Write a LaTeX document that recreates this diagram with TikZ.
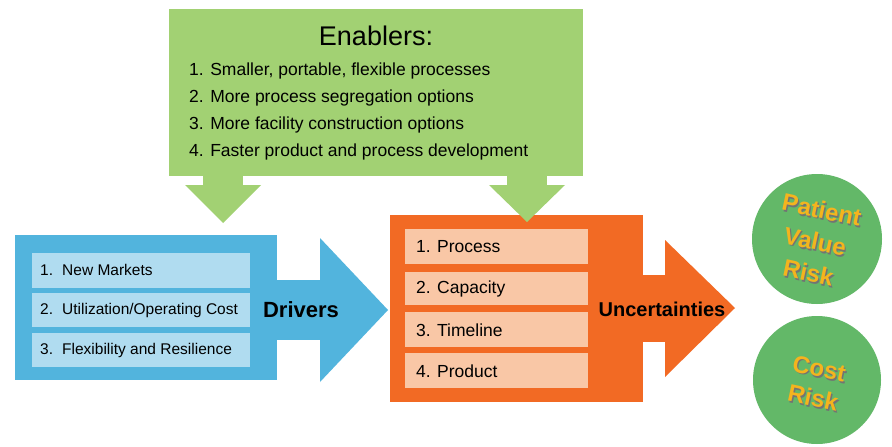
\documentclass[tikz,border=0pt]{standalone}
\usepackage{fontspec}
\setmainfont{Liberation Sans}
\definecolor{enab}{HTML}{A2D173}
\definecolor{drv}{HTML}{52B4DD}
\definecolor{drvitem}{HTML}{B0DCF0}
\definecolor{unc}{HTML}{F26A24}
\definecolor{uncitem}{HTML}{F9C7A6}
\definecolor{riskgreen}{HTML}{63B868}
\definecolor{riskgold}{HTML}{F4B41E}
\newcommand\shtxt[1]{\makebox[0pt][l]{\hspace{1.6pt}\raisebox{-1.6pt}{\textcolor{black!55}{#1}}}#1}
\begin{document}
\begin{tikzpicture}[x=1pt,y=-1pt,
  txt/.style={inner sep=0pt, font=\fontsize{#1}{#1}\selectfont},
  bitem/.style={fill=drvitem},
  oitem/.style={fill=uncitem},
  risktxt/.style={inner sep=0pt, align=center, rotate=-12, text=riskgold, font=\bfseries\fontsize{24}{#1}\selectfont}
]
\useasboundingbox[fill=white] (0,0) rectangle (892,447);

% Drivers (blue)
\fill[drv] (15,235) rectangle (277,380);
\fill[drv] (276,280) rectangle (322,340);
\fill[drv] (320,238) -- (388,310) -- (320,382) -- cycle;
\node[bitem, minimum width=218pt, minimum height=35pt, inner sep=0pt] (b1) at (141,270) {};
\node[bitem, minimum width=218pt, minimum height=34pt, inner sep=0pt] (b2) at (141,310) {};
\node[bitem, minimum width=218pt, minimum height=34pt, inner sep=0pt] (b3) at (141,350) {};
\node[txt=15.5, anchor=west] (bt1) at (40,270) {\makebox[22pt][l]{1.}New Markets};
\node[txt=15.5, anchor=west] (bt2) at (40,310) {\makebox[22pt][l]{2.}Utilization/Operating Cost};
\node[txt=15.5, anchor=west] (bt3) at (40,350) {\makebox[22pt][l]{3.}Flexibility and Resilience};
\node[txt=22, font=\bfseries\fontsize{22}{22}\selectfont] (drivers) at (301,310) {Drivers};

% Uncertainties (orange)
\fill[unc] (390,215) rectangle (643,402);
\fill[unc] (642,275) rectangle (667,342);
\fill[unc] (665,240) -- (735,308) -- (665,377) -- cycle;
\node[oitem, minimum width=183pt, minimum height=35pt, inner sep=0pt] (o1) at (496.5,246.5) {};
\node[oitem, minimum width=183pt, minimum height=33pt, inner sep=0pt] (o2) at (496.5,288.5) {};
\node[oitem, minimum width=183pt, minimum height=35pt, inner sep=0pt] (o3) at (496.5,329.5) {};
\node[oitem, minimum width=183pt, minimum height=35pt, inner sep=0pt] (o4) at (496.5,370.5) {};
\node[txt=17.5, anchor=west] (ot1) at (416,247) {\makebox[21pt][l]{1.}Process};
\node[txt=17.5, anchor=west] (ot2) at (416,289) {\makebox[21pt][l]{2.}Capacity};
\node[txt=17.5, anchor=west] (ot3) at (416,330) {\makebox[21pt][l]{3.}Timeline};
\node[txt=17.5, anchor=west] (ot4) at (416,371) {\makebox[21pt][l]{4.}Product};
\node[txt=20, font=\bfseries\fontsize{20}{20}\selectfont] (uncert) at (662,309) {Uncertainties};

% Enablers (green)
\fill[enab] (169,9) rectangle (583,176);
\fill[enab] (203,175) rectangle (243,186);
\fill[enab] (185,185) -- (261,185) -- (223,223) -- cycle;
\fill[enab] (507,175) rectangle (547,186);
\fill[enab] (489,185) -- (565,185) -- (527,222) -- cycle;
\node[txt=27] (enabtitle) at (376,36) {Enablers:};
\node[txt=17.5, anchor=west] (e1) at (189,71) {1. Smaller, portable, flexible processes};
\node[txt=17.5, anchor=west] (e2) at (189,98) {2. More process segregation options};
\node[txt=17.5, anchor=west] (e3) at (189,125) {3. More facility construction options};
\node[txt=17.5, anchor=west] (e4) at (189,152) {4. Faster product and process development};

% Risk circles
\fill[riskgreen] (817,239) circle (65);
\fill[riskgreen] (817,380) circle (64);
\node[risktxt=32] (patient) at (815,242) {\shtxt{Patient}\\\shtxt{Value}\\\shtxt{Risk}};
\node[risktxt=30] (cost) at (816,384) {\shtxt{Cost}\\\shtxt{Risk}};
\end{tikzpicture}
\end{document}
